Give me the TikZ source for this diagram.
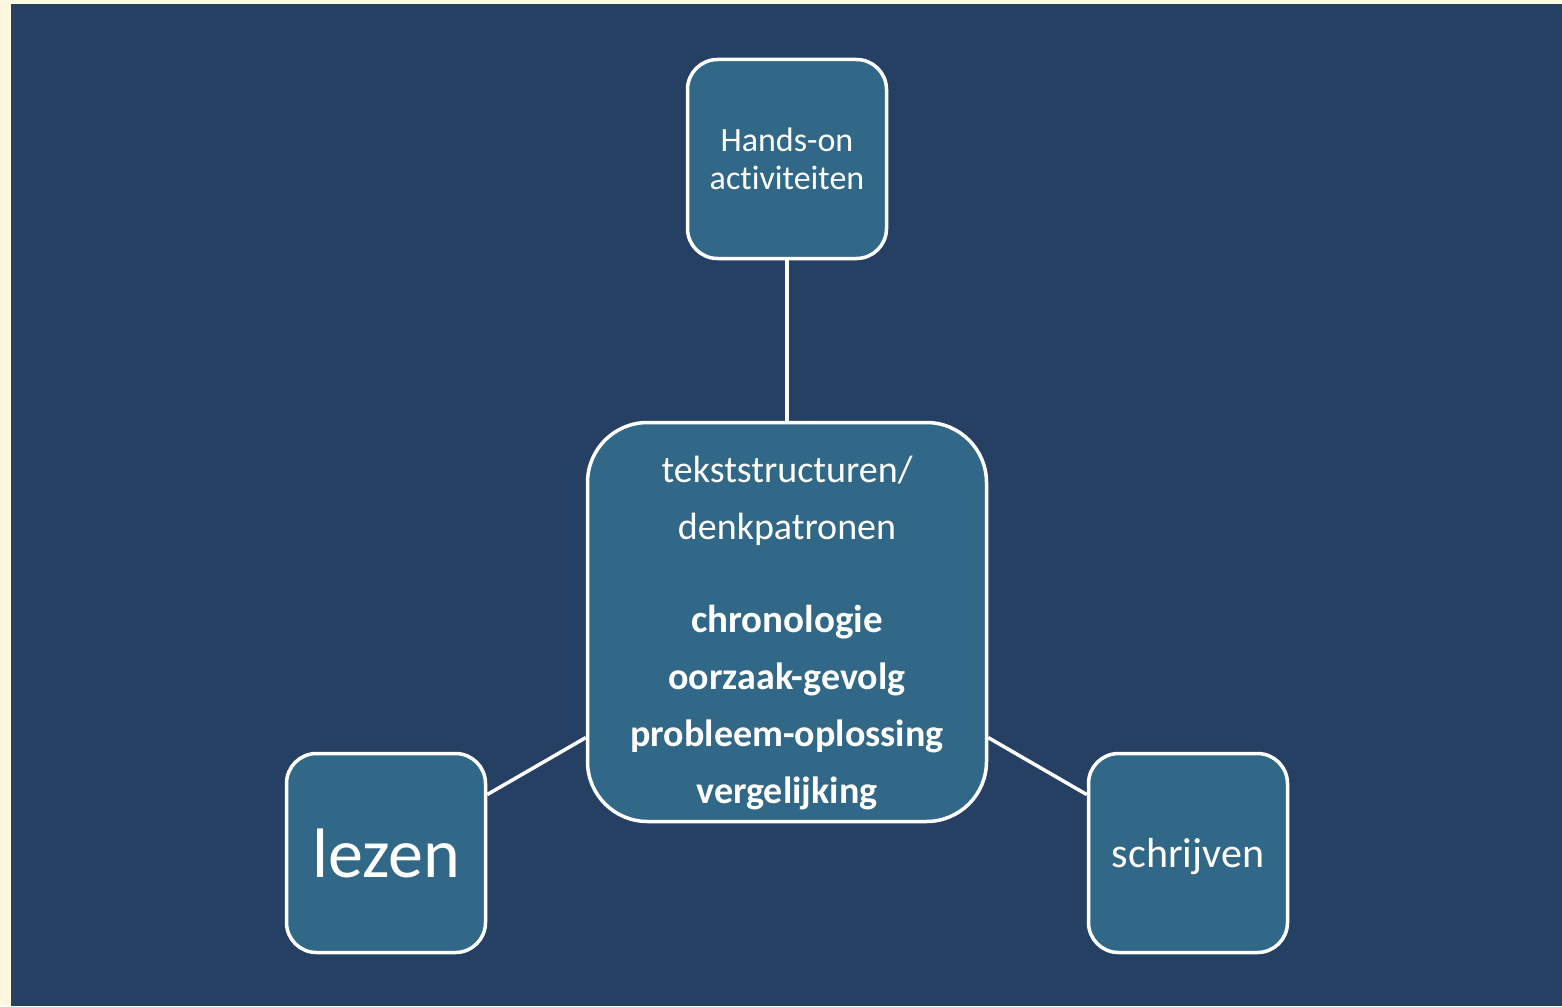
\documentclass[tikz,border=0pt]{standalone}
\usepackage{fontspec}
\setmainfont{Carlito}[Ligatures=NoCommon]
\definecolor{bgblue}{HTML}{264063}
\definecolor{boxblue}{HTML}{326887}
\definecolor{cream}{HTML}{FFF8E1}
\begin{document}
\begin{tikzpicture}[x=1pt,y=-1pt,
  box/.style={draw=white, line width=3.5pt, fill=boxblue, text=white, align=center, inner sep=0pt},
  smallbox/.style={box, minimum width=199pt, minimum height=199pt, rounded corners=30pt},
  link/.style={draw=white, line width=3.5pt}]
\fill[cream] (0,0) rectangle (1562,1006);
\fill[bgblue] (11,4) rectangle (1562,1006);
\useasboundingbox (0,0) rectangle (1562,1006);
\node[smallbox, font=\fontsize{34}{38}\selectfont] (hands) at (787,159) {Hands-on\\activiteiten};
\node[box, minimum width=399pt, minimum height=399pt, rounded corners=60pt, font=\fontsize{38}{57}\selectfont] (center) at (787,622)
  {\rule{0pt}{48pt}tekststructuren/\\denkpatronen\\[36pt]\fontsize{39}{57}\selectfont\textbf{chronologie}\\\textbf{oorzaak-gevolg}\\\textbf{probleem-oplossing}\\\textbf{vergelijking}};
\node[smallbox, font=\fontsize{70}{74}\selectfont] (lezen) at (386,853) {lezen};
\node[smallbox, font=\fontsize{42}{46}\selectfont] (schrijven) at (1188,853) {\rule{0pt}{36pt}schrijven};
\draw[link] (hands) -- (center);
\draw[link] (lezen) -- (center);
\draw[link] (schrijven) -- (center);
\end{tikzpicture}
\end{document}
